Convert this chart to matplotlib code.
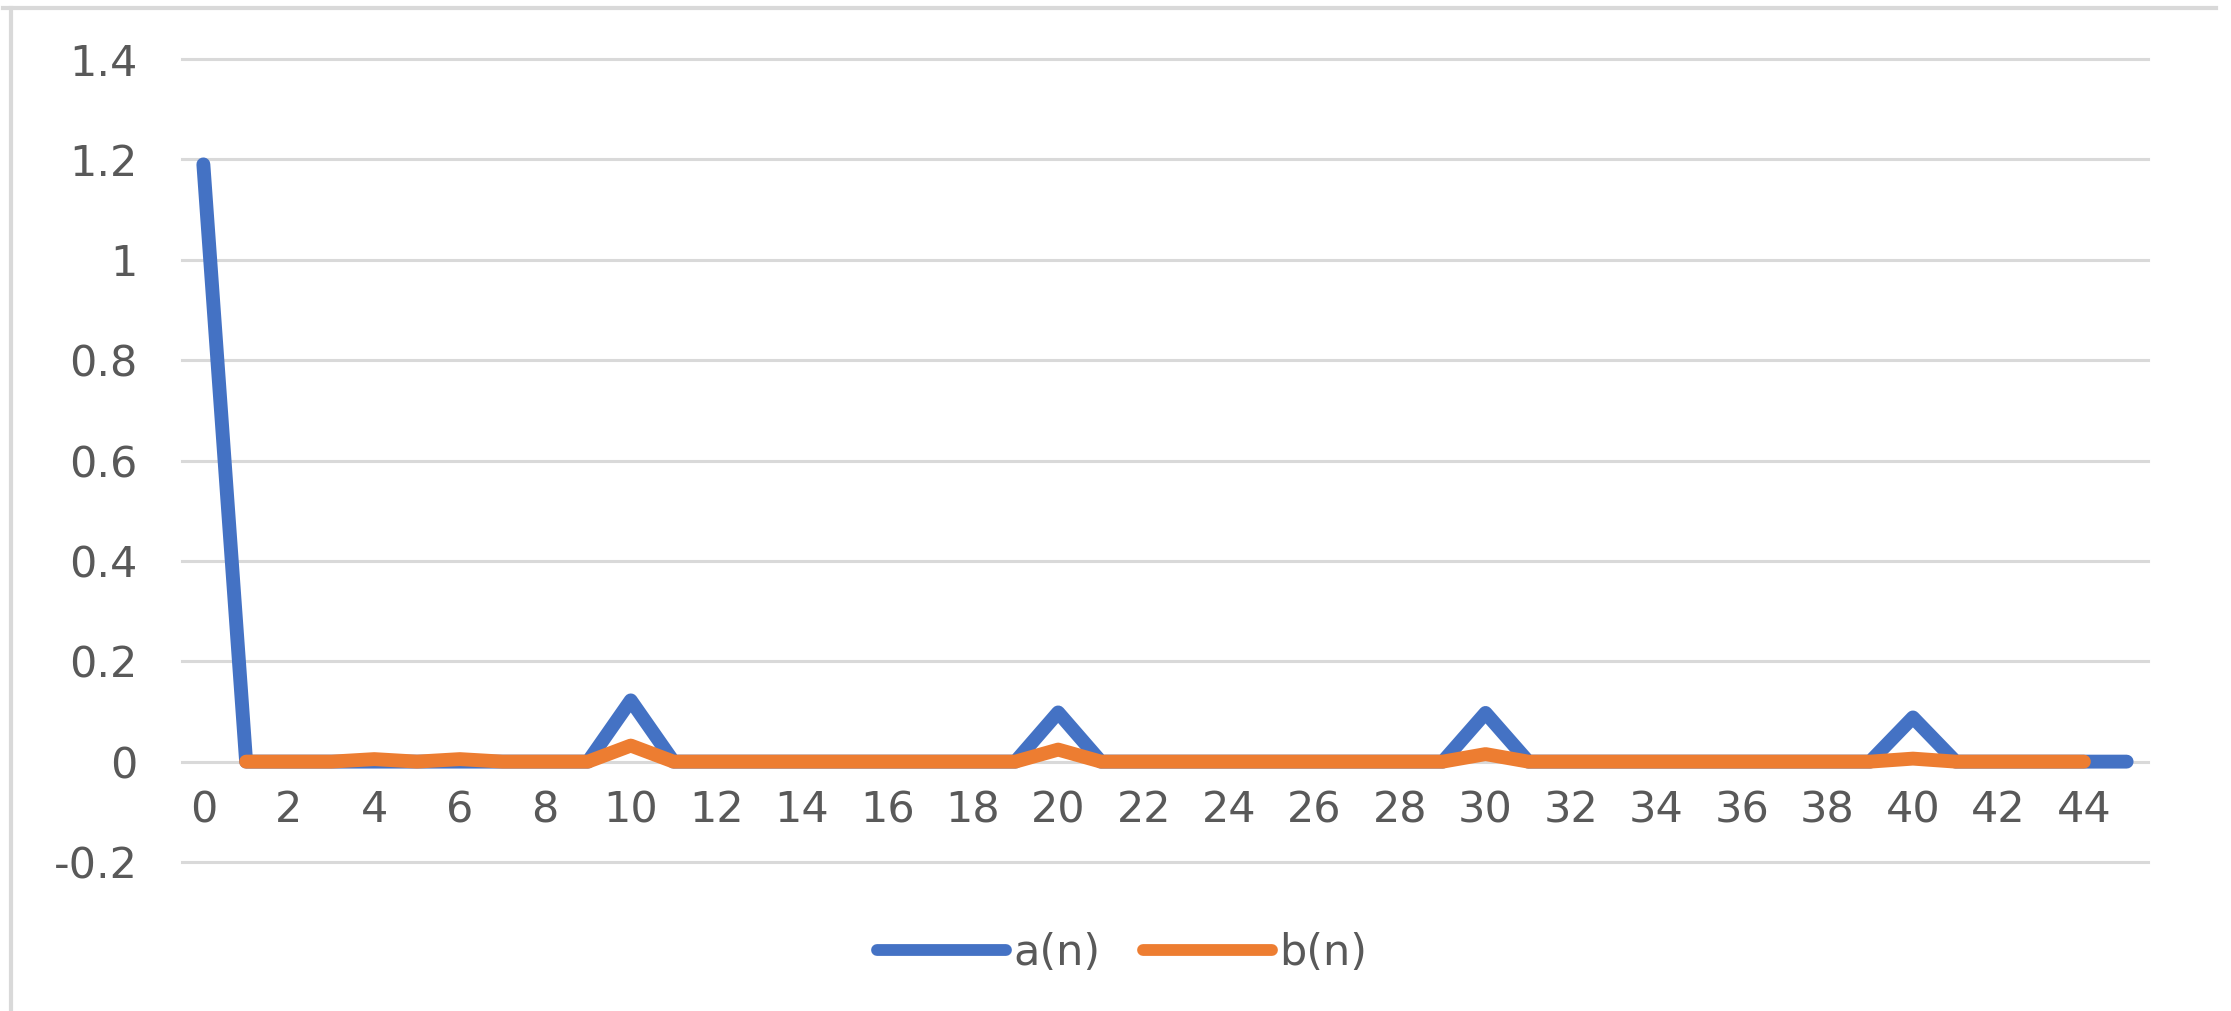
import matplotlib
matplotlib.use('Agg')
import matplotlib.pyplot as plt
from matplotlib.lines import Line2D

plt.rcParams['font.family'] = ['DejaVu Sans']

# coefficient series: a for n = 0..45, b for n = 1..44
a_n = [1.19, 0, 0, 0, 0, 0, 0, 0, 0, 0,
       0.122, 0, 0, 0, 0, 0, 0, 0, 0, 0,
       0.098, 0, 0, 0, 0, 0, 0, 0, 0, 0,
       0.097, 0, 0, 0, 0, 0, 0, 0, 0, 0,
       0.088, 0, 0, 0, 0, 0]
b_start = 1
b_n = [0, 0, 0, 0.005, 0, 0.005, 0, 0, 0,
       0.032, 0, 0, 0, 0, 0, 0, 0, 0, 0,
       0.024, 0, 0, 0, 0, 0, 0, 0, 0, 0,
       0.015, 0, 0, 0, 0, 0, 0, 0, 0, 0,
       0.006, 0, 0, 0, 0]
y_ticks = [-0.2, 0, 0.2, 0.4, 0.6, 0.8, 1, 1.2, 1.4]
y_labels = ['-0.2', '0', '0.2', '0.4', '0.6', '0.8', '1', '1.2', '1.4']
x_ticks = list(range(0, 45, 2))

BLUE = '#4472C4'
ORANGE = '#ED7D31'
GRID = '#D9D9D9'
TEXT = '#595959'

W, H = 2231, 1011
fig = plt.figure(figsize=(W / 100, H / 100), dpi=100)
ax = fig.add_axes([182 / W, 1 - 862 / H, (2148 - 182) / W, (862 - 59) / H])

for yv in y_ticks:
    ax.axhline(yv, color=GRID, lw=2.2, zorder=0, clip_on=False)

ax.plot(range(len(a_n)), a_n, color=BLUE, lw=10, solid_joinstyle='round',
        solid_capstyle='round', label='a(n)', zorder=2)
ax.plot(range(b_start, b_start + len(b_n)), b_n, color=ORANGE, lw=10,
        solid_joinstyle='round', solid_capstyle='round', label='b(n)', zorder=3)

ax.set_xlim(-0.5, 45.5)
ax.set_ylim(-0.2, 1.4)
ax.set_yticks(y_ticks, y_labels)
ax.set_xticks(x_ticks, [str(t) for t in x_ticks])
ax.spines['bottom'].set_position(('data', 0))
for s in ax.spines.values():
    s.set_visible(False)
ax.tick_params(axis='y', length=0, pad=32, labelsize=31, labelcolor=TEXT)
ax.tick_params(axis='x', length=0, pad=20, labelsize=31, labelcolor=TEXT)

leg = fig.legend(loc='center', bbox_to_anchor=(1122 / W, 1 - 953 / H), ncol=2,
                 frameon=False, fontsize=31, handlelength=3.0, handletextpad=0.15,
                 columnspacing=1.0, labelcolor=TEXT)
for h in leg.legend_handles:
    h.set_linewidth(8.5)
    h.set_solid_capstyle('round')

# chart frame edges
fig.add_artist(Line2D([3 / W, 2216 / W], [1 - 8 / H, 1 - 8 / H], color=GRID, lw=3))
fig.add_artist(Line2D([11 / W, 11 / W], [1 - 8 / H, 0], color=GRID, lw=3))

fig.savefig('out.png', dpi=100)
